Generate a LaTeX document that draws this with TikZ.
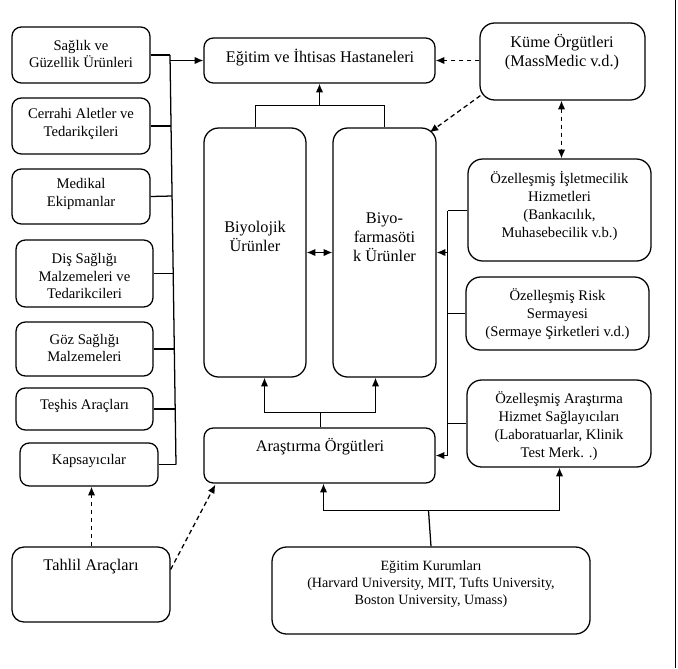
\documentclass[tikz,border=0pt]{standalone}
\usepackage{fontspec}
\setmainfont{Liberation Serif}
\usetikzlibrary{arrows.meta,fit,calc}
\begin{document}
\begin{tikzpicture}[x=0.75pt,y=-0.75pt, line width=0.95pt,
 box/.style={draw, line width=0.95pt, rounded corners=7pt, inner sep=0pt},
 bigbox/.style={box, rounded corners=11pt},
 ts/.style={font=\fontsize{11}{12.8}\selectfont, align=center, inner sep=0pt},
 tr/.style={font=\fontsize{11}{13.5}\selectfont, align=center, inner sep=0pt},
 te/.style={font=\fontsize{10.6}{12.8}\selectfont, align=center, inner sep=0pt},
 tl/.style={font=\fontsize{12.2}{14.2}\selectfont, align=center, inner sep=0pt},
 tip/.style={-{Latex[length=6.5pt,width=5.5pt]}},
 dtip/.style={{Latex[length=6.5pt,width=5.5pt]}-{Latex[length=6.5pt,width=5.5pt]}},
 dsh/.style={dash pattern=on 3.5pt off 2.5pt}]
\useasboundingbox (0,0) rectangle (678,668);
\draw (675.5,0) -- (675.5,668);

% left column
\node[box, fit={(12,27)(150,83)}] (b1) {};
\node[ts] (b1t) at (81,54) {Sağlık ve\\Güzellik Ürünleri};
\node[box, fit={(12,98)(150,154)}] (b2) {};
\node[ts] (b2t) at (81,124) {Cerrahi Aletler ve\\Tedarikçileri};
\node[box, fit={(12,169)(150,224)}] (b3) {};
\node[ts] (b3t) at (81,194) {Medikal\\Ekipmanlar};
\node[box, fit={(16,240)(153,307)}] (b4) {};
\node[ts] (b4t) at (84.5,276) {Diş Sağlığı\\Malzemeleri ve\\Tedarikcileri};
\node[box, fit={(16,322)(153,376)}] (b5) {};
\node[ts] (b5t) at (84.5,348) {Göz Sağlığı\\Malzemeleri};
\node[box, fit={(16,388)(153,430)}] (b6) {};
\node[ts] (b6t) at (84.5,406) {Teşhis Araçları};
\node[box, fit={(20,443)(158,486)}] (b7) {};
\node[ts] (b7t) at (89,461) {Kapsayıcılar};

\node[bigbox, rounded corners=9pt, fit={(12,547)(170,622)}] (tah) {};
\node[tl] (taht) at (91,567) {Tahlil Araçları};

% centre
\node[box, fit={(204,38)(435,83)}] (eg) {};
\node[tl] (egt) at (320,58) {Eğitim ve İhtisas Hastaneleri};
\node[bigbox, fit={(204,128)(306,377)}] (biyo) {};
\node[tl] (biyot) at (255,236) {Biyolojik\\Ürünler};
\node[bigbox, fit={(333,128)(436,377)}] (farma) {};
\node[tl] (farmat) at (384.5,237) {Biyo-\\farmasöti\\k Ürünler};
\node[box, fit={(204,428)(435,483)}] (ars) {};
\node[tl] (arst) at (320,447) {Araştırma Örgütleri};
\node[bigbox, fit={(272,547)(590,634)}] (ek) {};
\node[te] (ekt) at (431,584) {Eğitim Kurumları\\(Harvard University, MIT, Tufts University,\\Boston University, Umass)};

% right column
\node[bigbox, fit={(480,23)(645,100)}] (kume) {};
\node[tl] (kumet) at (562,52) {Küme Örgütleri\\(MassMedic v.d.)};
\node[bigbox, fit={(468,159)(651,261)}] (isl) {};
\node[tr] (islt) at (559.5,206) {Özelleşmiş İşletmecilik\\Hizmetleri\\(Bankacılık,\\Muhasebecilik v.b.)};
\node[bigbox, fit={(466,277)(649,350)}] (risk) {};
\node[tr] (riskt) at (557.5,314) {Özelleşmiş Risk\\Sermayesi\\(Sermaye Şirketleri v.d.)};
\node[bigbox, fit={(467,380)(651,467)}] (hiz) {};
\node[tr] (hizt) at (559,426) {Özelleşmiş Araştırma\\Hizmet Sağlayıcıları\\(Laboratuarlar, Klinik\\Test Merk. .)};

% left bracket (slightly slanted)
\coordinate (L1) at (170,55);
\coordinate (L2) at (171,126);
\coordinate (L3) at (172,196);
\coordinate (L4) at (173.2,273.5);
\coordinate (L5) at (174.4,349);
\coordinate (L6) at (175.2,409);
\coordinate (L7) at (176,464.5);
\draw (b1.east) -- (L1);
\draw (b2.east) -- (L2);
\draw (b3.east) -- (L3);
\draw (b4.east) -- (L4);
\draw (b5.east) -- (L5);
\draw (b6.east) -- (L6);
\draw (b7.east) -- (L7);
\draw (L1) -- (L7);
\draw[tip] (170.1,0 |- eg.west) -- (eg.west);

% top junction
\coordinate (J1) at (319.5,105.5);
\draw (255.5,0 |- biyo.north) -- (255.5,105.5) -- (384.5,105.5) -- (384.5,0 |- farma.north);
\draw[tip] (J1) -- (319.5,0 |- eg.south);
\draw[dtip] (biyo.east) -- (farma.west);

% bottom junction
\coordinate (J2) at (320.5,412.5);
\draw (320.5,0 |- ars.north) -- (J2);
\draw[tip] (264.5,412.5) -- (264.5,0 |- biyo.south);
\draw[tip] (375.5,412.5) -- (375.5,0 |- farma.south);
\draw (264.5,412.5) -- (375.5,412.5);

% right bracket
\coordinate (RB) at (447.5,210.5);
\draw (isl.west |- RB) -- (RB);
\draw (risk.west) -- (risk.west -| RB);
\draw (hiz.west) -- (hiz.west -| RB);
\draw (RB) -- (RB |- ars.east);
\draw[tip] (RB |- ars.east) -- (ars.east);
\draw[tip] (RB |- farma.east) -- (farma.east);

% dashed
\draw[tip, dsh] (kume.west |- eg.east) -- (eg.east);
\draw[tip, dsh] ($(kume.south west)+(1,-5)$) -- ($(farma.north east)+(-7,5)$);
\draw[dtip, dsh] (561.5,0 |- kume.south) -- (561.5,0 |- isl.north);
\draw[tip, dsh] (91.5,0 |- tah.north) -- (91.5,0 |- b7.south);
\draw[tip, dsh] ($(tah.east)+(0,-15)$) -- ($(ars.south west)+(12,1)$);

% education
\coordinate (J3) at (428.5,510.5);
\draw (ek.north) -- (J3);
\draw[tip] (J3) -| (323.5,0 |- ars.south);
\draw[tip] (J3) -| (559.5,0 |- hiz.south);
\end{tikzpicture}
\end{document}
